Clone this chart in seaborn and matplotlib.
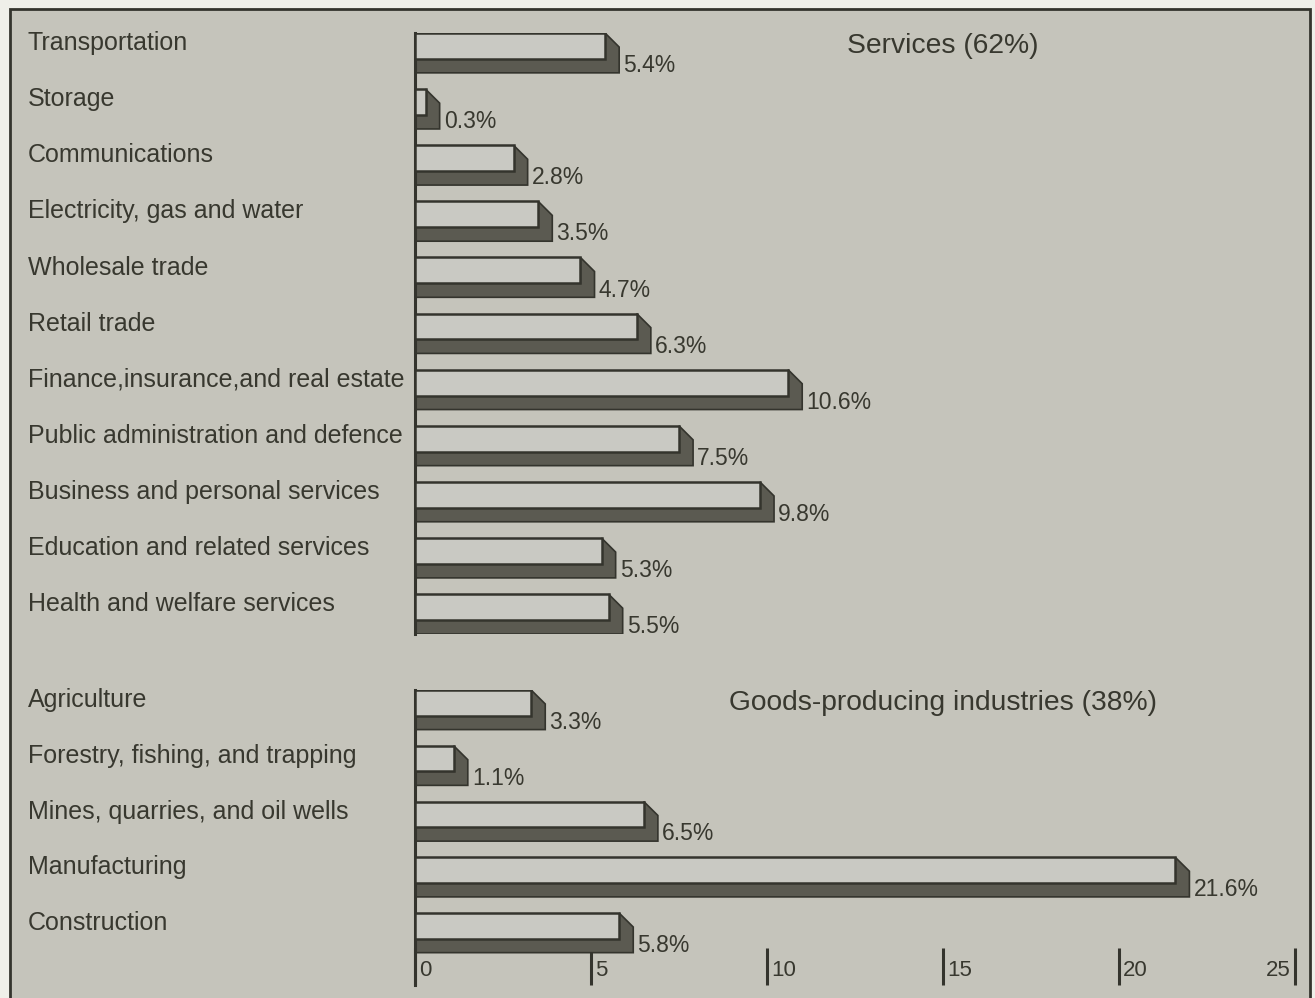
import matplotlib
matplotlib.use("Agg")
import matplotlib.pyplot as plt
import matplotlib.transforms as mtransforms
from matplotlib.patches import Polygon, Rectangle
import seaborn as sns

# ---- data ----
services = ["Transportation", "Storage", "Communications",
            "Electricity, gas and water", "Wholesale trade", "Retail trade",
            "Finance,insurance,and real estate",
            "Public administration and defence",
            "Business and personal services",
            "Education and related services",
            "Health and welfare services"]
services_pct = [5.4, 0.3, 2.8, 3.5, 4.7, 6.3, 10.6, 7.5, 9.8, 5.3, 5.5]

goods = ["Agriculture", "Forestry, fishing, and trapping",
         "Mines, quarries, and oil wells", "Manufacturing", "Construction"]
goods_pct = [3.3, 1.1, 6.5, 21.6, 5.8]

group_titles = ["Services (62%)", "Goods-producing industries (38%)"]
x_ticks = [0, 5, 10, 15, 20, 25]

# ---- style ----
BG = "#c5c4bb"
FACE = "#c9c9c3"
SIDE = "#5b5a51"
EDGE = "#34342d"
TXT = "#38382f"

sns.set_style("white")
plt.rcParams["font.family"] = ["Liberation Sans", "DejaVu Sans"]

fig = plt.figure(figsize=(13.15, 9.98), dpi=100)
fig.patch.set_facecolor("#efefe9")

# scanned page frame
fig.add_artist(Rectangle((10 / 1315, -0.02), 1300 / 1315, 1.02 - 9 / 998,
                         transform=fig.transFigure, facecolor=BG,
                         edgecolor=EDGE, lw=2, zorder=0))

left, width = 415 / 1315, 880 / 1315
ax_top = fig.add_axes([left, 1 - 634 / 998, width, (634 - 33) / 998])
ax_bot = fig.add_axes([left, 1 - 985 / 998, width, (985 - 690) / 998])

BAR_H = 0.46   # front face height (category units)
DX = 0.4       # depth to the right (data units)
DY = 0.25      # depth downwards (category units)


def draw_group(ax, names, values, title, ybottom):
    sns.barplot(x=values, y=names, orient="h", ax=ax, color=FACE,
                edgecolor=EDGE, linewidth=1.8, width=BAR_H, saturation=1,
                zorder=3)
    # extruded side of each bar
    for p in list(ax.patches):
        x0, y0 = p.get_x(), p.get_y()
        w, h = p.get_width(), p.get_height()
        side = Polygon([(x0, y0 + h), (x0, y0 + h + DY), (x0 + w + DX, y0 + h + DY),
                        (x0 + w + DX, y0 + DY), (x0 + w, y0), (x0 + w, y0 + h)],
                       closed=True, facecolor=SIDE, edgecolor=EDGE, lw=1.2,
                       zorder=2)
        ax.add_patch(side)

    ax.set_xlim(0, 25)
    ax.set_ylim(ybottom, -BAR_H / 2)
    ax.set_facecolor("none")
    for s in ["top", "right", "bottom"]:
        ax.spines[s].set_visible(False)
    ax.spines["left"].set_color(EDGE)
    ax.spines["left"].set_linewidth(2.2)
    ax.set_xlabel("")
    ax.set_ylabel("")
    ax.tick_params(axis="y", length=0, labelleft=False)

    lab_tr = mtransforms.blended_transform_factory(fig.transFigure, ax.transData)
    for i, (n, v) in enumerate(zip(names, values)):
        ax.text(28 / 1315, i - 0.05, n, transform=lab_tr, ha="left",
                va="center", fontsize=18, color=TXT)
        ax.annotate(f"{v}%", xy=(v + DX, i + 0.35), xytext=(3, 0),
                    textcoords="offset points", ha="left", va="center",
                    fontsize=16.5, color=TXT)
    ax.text(15, 0, title, ha="center", va="center", fontsize=20.3, color=TXT)


draw_group(ax_top, services, services_pct, group_titles[0], len(services) - 1 + BAR_H / 2 + DY)
draw_group(ax_bot, goods, goods_pct, group_titles[1], len(goods) - 1 + 1.06)

ax_top.tick_params(axis="x", bottom=False, labelbottom=False)
ax_bot.set_xticks(x_ticks)
ax_bot.tick_params(axis="x", bottom=True, direction="in", length=27, width=2.2,
                   color=EDGE, labelbottom=False)

tick_tr = mtransforms.blended_transform_factory(ax_bot.transData, ax_bot.transAxes)
for t in x_ticks:
    last = t == x_ticks[-1]
    ax_bot.annotate(str(t), xy=(t, 0), xycoords=tick_tr,
                    xytext=(-3 if last else 3, 3), textcoords="offset points",
                    ha="right" if last else "left", va="bottom",
                    fontsize=16, color=TXT)

fig.savefig("out.png", dpi=100, facecolor=fig.get_facecolor())
